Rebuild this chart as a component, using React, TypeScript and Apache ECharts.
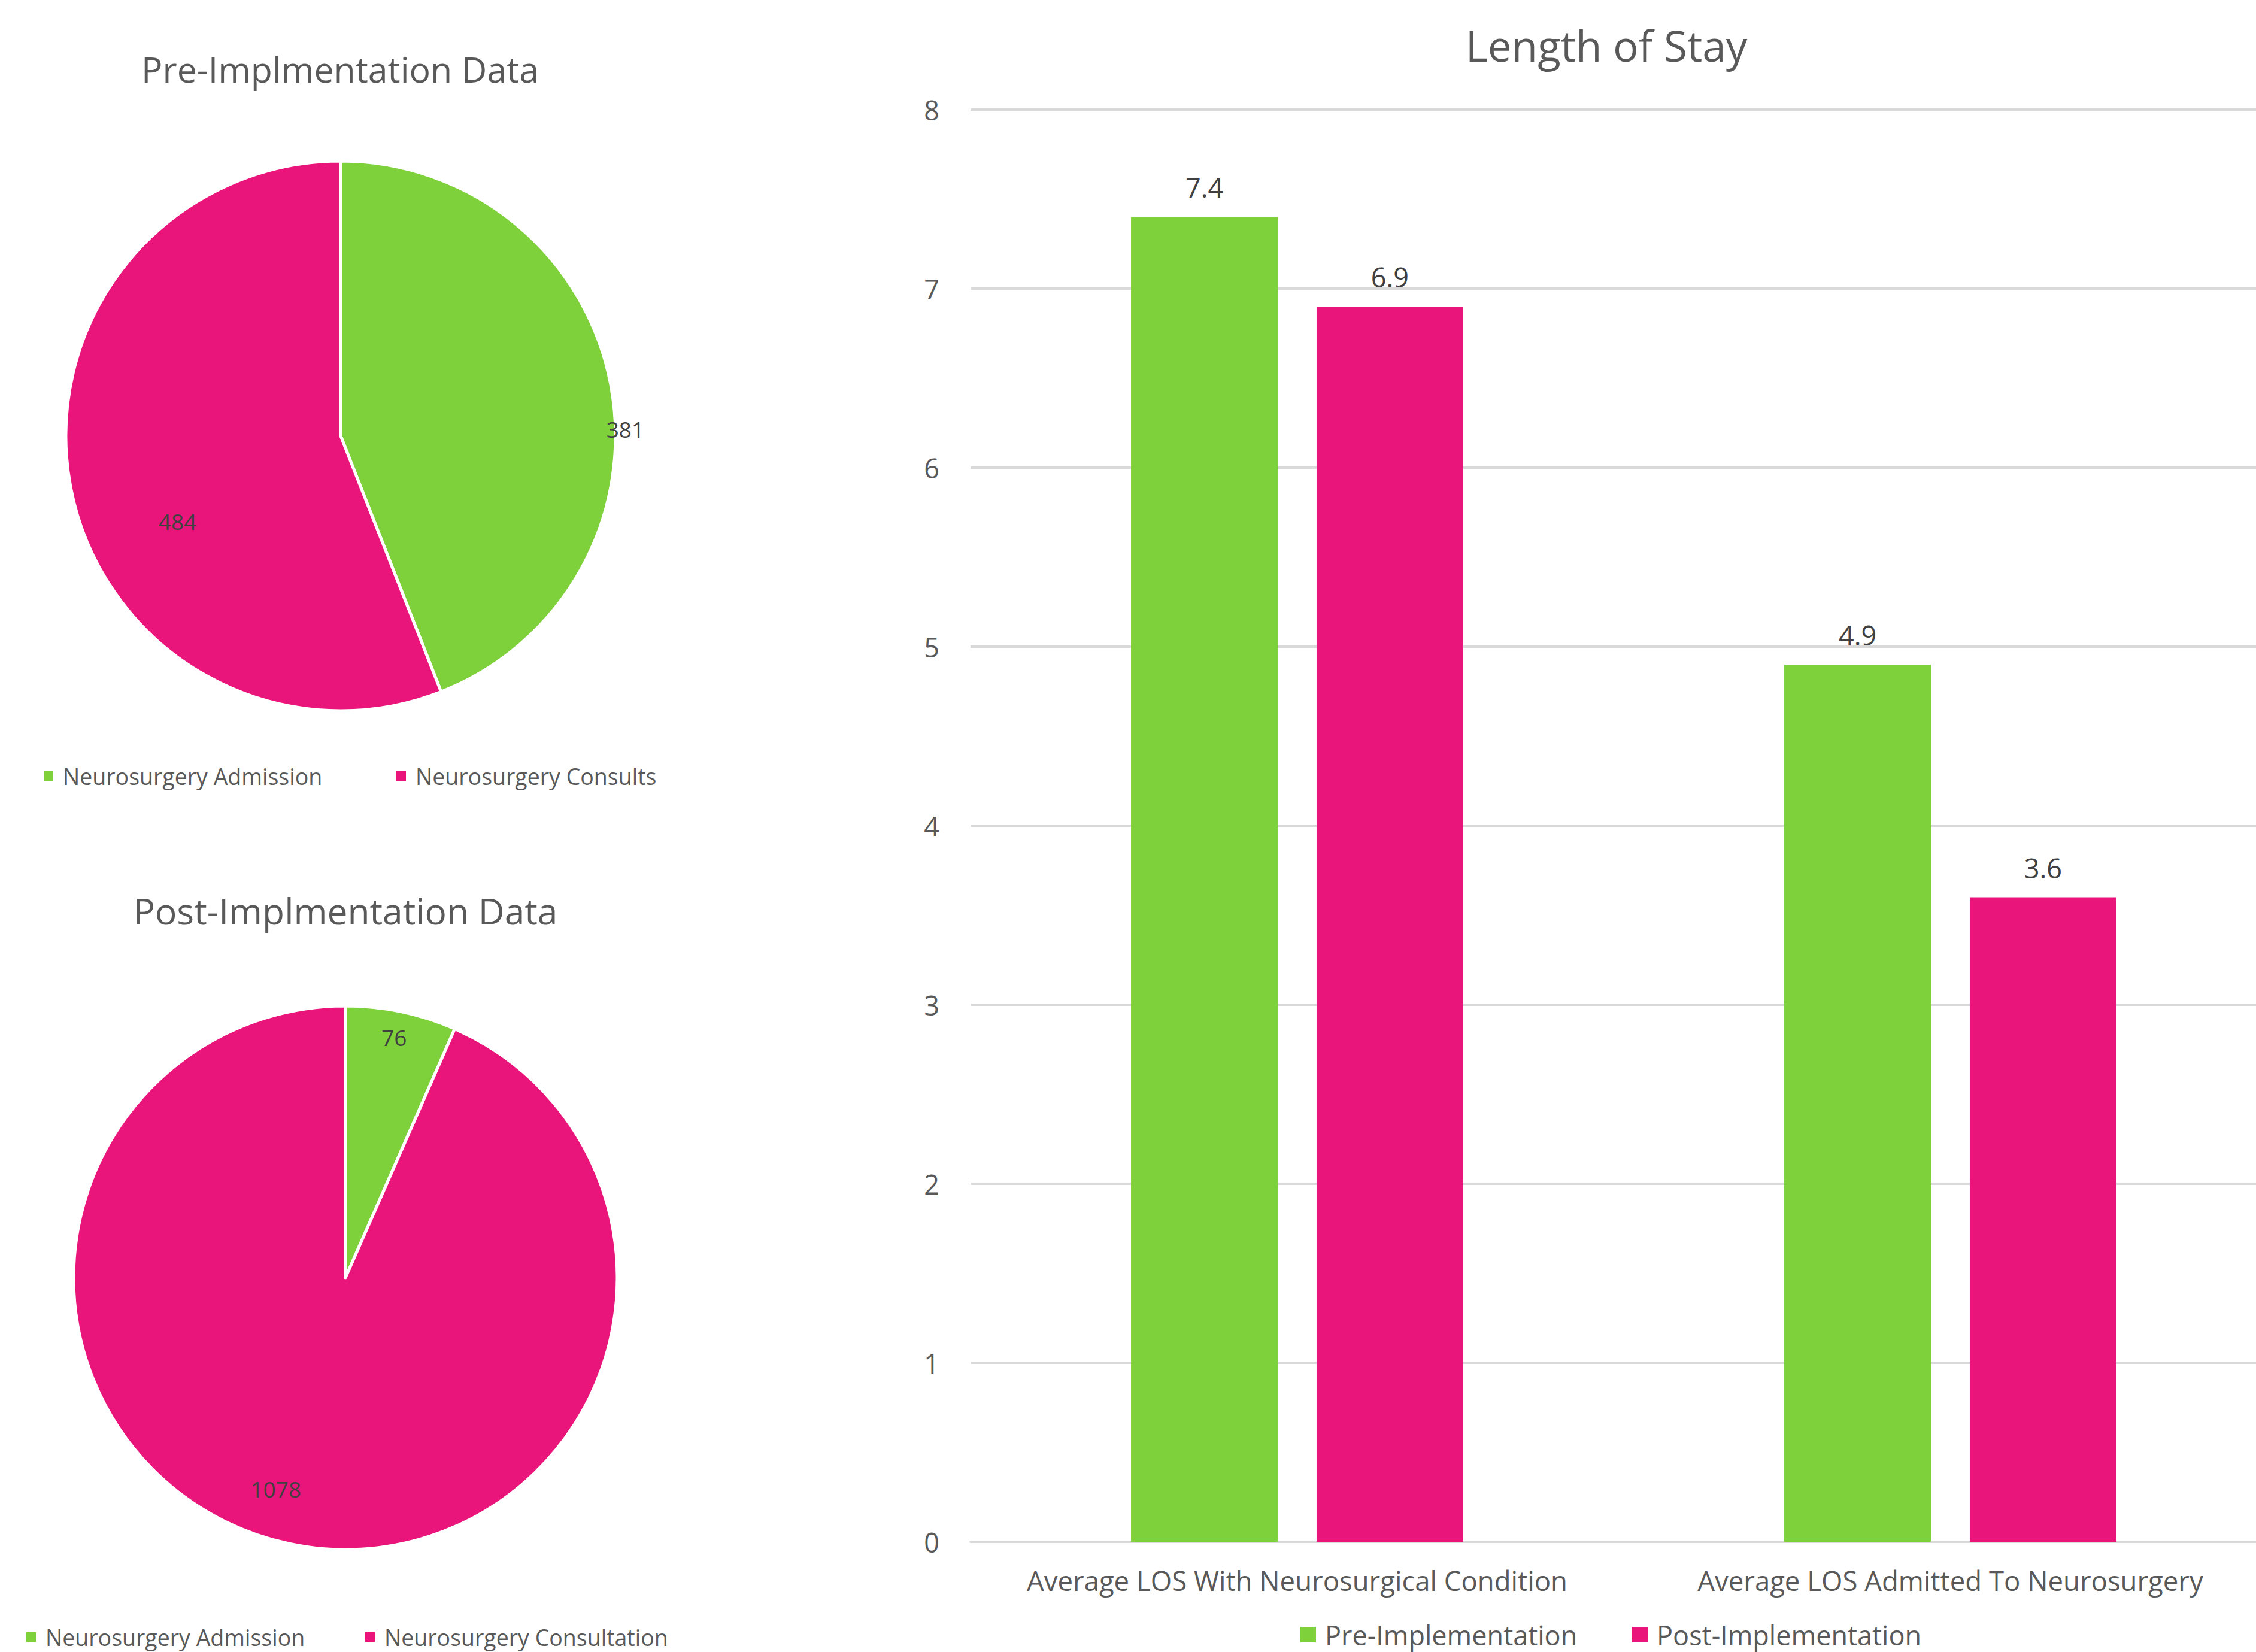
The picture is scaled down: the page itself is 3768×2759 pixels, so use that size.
import React, { useEffect, useRef } from "react";
import * as echarts from "echarts";

const preNames = ["Neurosurgery Admission", "Neurosurgery Consults"];
const preValues = [381, 484];
const postNames = ["Neurosurgery Admission", "Neurosurgery Consultation"];
const postValues = [76, 1078];
const losCategories = ["Average LOS With Neurosurgical Condition", "Average LOS Admitted To Neurosurgery"];
const losPre = [7.4, 4.9];
const losPost = [6.9, 3.6];
const seriesNames = ["Pre-Implementation", "Post-Implementation"];

const GREEN = "#7FD13B";
const PINK = "#EA157A";
const TEXT = "#595959";
const LABEL = "#404040";
const FONT = "'Open Sans', 'Noto Sans', sans-serif";

const preLabelOffsets = [
  { dx: 247, dy: 32 },
  { dx: -44, dy: 99 },
];
const postLabelOffsets = [
  { dx: 34, dy: -176 },
  { dx: -69, dy: 127 },
];

function pieLegend(name: string, left: number, top: number) {
  return {
    show: true,
    data: [name],
    left,
    top,
    orient: "horizontal",
    padding: 0,
    icon: "rect",
    itemWidth: 18,
    itemHeight: 18,
    selectedMode: false,
    textStyle: { fontFamily: FONT, fontSize: 37.5, color: TEXT, lineHeight: 40, padding: [0, 0, 0, 10] },
  };
}

function barLegend(name: string, left: number) {
  return {
    show: true,
    data: [name],
    left,
    top: 2707,
    orient: "horizontal",
    padding: 0,
    icon: "rect",
    itemWidth: 26,
    itemHeight: 26,
    selectedMode: false,
    textStyle: { fontFamily: FONT, fontSize: 45, color: TEXT, lineHeight: 46, padding: [0, 0, 0, 10] },
  };
}

export default function App() {
  const ref = useRef<HTMLDivElement>(null);
  useEffect(() => {
    if (!ref.current) return;
    const chart = echarts.init(ref.current, null, { renderer: "svg" });
    const colors = [GREEN, PINK];
    const option: any = {
      animation: false,
      backgroundColor: "#ffffff",
      textStyle: { fontFamily: FONT },
      graphic: [
        { type: "text", x: 568, y: 115, style: { text: "Pre-Implmentation Data", align: "center", verticalAlign: "middle", fontSize: 59, fontFamily: FONT, fill: TEXT } },
        { type: "text", x: 577, y: 1520, style: { text: "Post-Implmentation Data", align: "center", verticalAlign: "middle", fontSize: 60.5, fontFamily: FONT, fill: TEXT } },
        { type: "text", x: 2683, y: 75, style: { text: "Length of Stay", align: "center", verticalAlign: "middle", fontSize: 71, fontFamily: FONT, fill: TEXT } },
      ],
      legend: [
        pieLegend(preNames[0], 71, 1276),
        pieLegend(preNames[1], 660, 1276),
        pieLegend(postNames[0], 42, 2714),
        pieLegend(postNames[1], 608, 2714),
        barLegend(seriesNames[0], 2172),
        barLegend(seriesNames[1], 2726),
      ],
      grid: { left: 1621, top: 183, width: 2182, height: 2392, containLabel: false, outerBoundsMode: "none" },
      xAxis: {
        type: "category",
        data: losCategories,
        axisLine: { show: true, lineStyle: { color: "#d9d9d9", width: 4 } },
        axisTick: { show: false },
        axisLabel: { interval: 0, fontSize: 45.5, color: TEXT, fontFamily: FONT, margin: 39, lineHeight: 50 },
      },
      yAxis: {
        type: "value",
        min: 0,
        max: 8,
        interval: 1,
        axisLine: { show: false },
        axisTick: { show: false },
        axisLabel: { fontSize: 45, color: TEXT, fontFamily: FONT, margin: 52 },
        splitLine: { show: true, lineStyle: { color: "#d9d9d9", width: 4 } },
      },
      series: [
        {
          type: "pie",
          name: "Pre",
          center: [569, 728],
          radius: [0, 459],
          startAngle: 90,
          clockwise: true,
          data: preNames.map((n, i) => ({ name: n, value: preValues[i], itemStyle: { color: colors[i] } })),
          itemStyle: { borderColor: "#ffffff", borderWidth: 5 },
          label: { show: true, position: "inside", formatter: "{c}", fontSize: 37, color: LABEL, fontFamily: FONT, textBorderWidth: 0 },
          labelLine: { show: false },
          labelLayout: (p: any) => preLabelOffsets[p.dataIndex],
          emphasis: { disabled: true },
        },
        {
          type: "pie",
          name: "Post",
          center: [577, 2134],
          radius: [0, 454],
          startAngle: 90,
          clockwise: true,
          data: postNames.map((n, i) => ({ name: n, value: postValues[i], itemStyle: { color: colors[i] } })),
          itemStyle: { borderColor: "#ffffff", borderWidth: 5 },
          label: { show: true, position: "inside", formatter: "{c}", fontSize: 37, color: LABEL, fontFamily: FONT, textBorderWidth: 0 },
          labelLine: { show: false },
          labelLayout: (p: any) => postLabelOffsets[p.dataIndex],
          emphasis: { disabled: true },
        },
        {
          type: "bar",
          name: seriesNames[0],
          data: losPre,
          barWidth: 245,
          barGap: "26.5%",
          itemStyle: { color: GREEN },
          label: { show: true, position: "top", distance: 27, fontSize: 45, color: LABEL, fontFamily: FONT },
          emphasis: { disabled: true },
        },
        {
          type: "bar",
          name: seriesNames[1],
          data: losPost,
          barWidth: 245,
          barGap: "26.5%",
          itemStyle: { color: PINK },
          label: { show: true, position: "top", distance: 27, fontSize: 45, color: LABEL, fontFamily: FONT },
          emphasis: { disabled: true },
        },
      ],
    };
    chart.setOption(option);
    return () => chart.dispose();
  }, []);
  return <div ref={ref} style={{ position: "absolute", left: 0, top: 0, width: 3768, height: 2759 }} />;
}
